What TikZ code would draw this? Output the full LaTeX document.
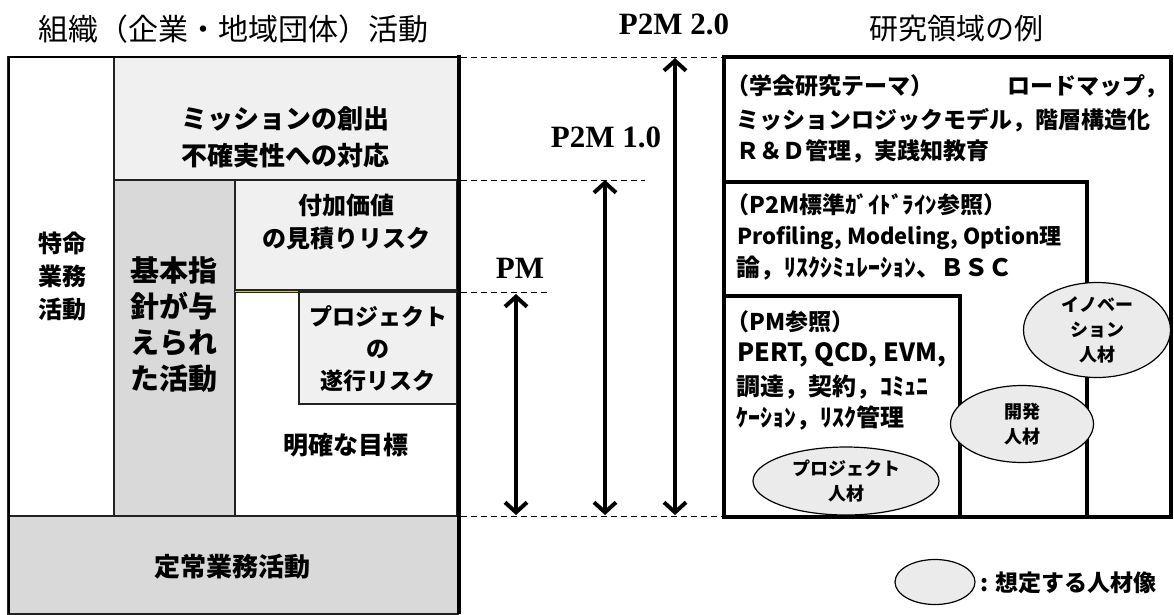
\documentclass[tikz,border=0pt]{standalone}
\usepackage{fontspec}
\newfontfamily\jp{Noto Sans CJK JP}
\newfontfamily\tms{Liberation Serif}
\usetikzlibrary{arrows.meta,shapes.geometric}
\definecolor{lightbox}{HTML}{F0F0F0}
\definecolor{darkbox}{HTML}{D9D9D9}
\definecolor{ellfill}{HTML}{EBEBEB}
\definecolor{thinline}{HTML}{222222}
\tikzset{
  cell/.style={draw=thinline,line width=1.2pt},
  thickframe/.style={draw=black,line width=3.5pt},
  guide/.style={draw=black,line width=0.9pt,dash pattern=on 6pt off 4pt},
  span/.style={line width=4pt,{Straight Barb[length=10pt,width=22pt,line width=4pt]}-{Straight Barb[length=10pt,width=22pt,line width=4pt]}},
  verlabel/.style={font=\tms\bfseries\fontsize{31}{34}\selectfont,inner sep=0pt},
  jtitle/.style={font=\jp\fontsize{29}{32}\selectfont,inner sep=0pt},
  jbold/.style={align=center,inner sep=0pt},
  jline/.style={anchor=west,inner sep=0pt,font=\jp\bfseries\fontsize{23}{28}\selectfont},
  person/.style={ellipse,draw=black,line width=1.2pt,fill=ellfill,align=center,inner sep=0pt,
    font=\jp\bfseries\fontsize{18}{25}\selectfont},
}
\begin{document}
\begin{tikzpicture}[x=1pt,y=-1pt]
\useasboundingbox (0,0) rectangle (1174,614);
\fill[white] (0,0) rectangle (1174,614);

% ---- left organisation block ----
\path[cell,fill=white] (8,57) rectangle (114,516);
\path[cell,fill=lightbox] (114,57) rectangle (458,180);
\path[cell,fill=darkbox] (114,180) rectangle (235,516);
\path[cell,fill=lightbox] (235,180) rectangle (457,290);
\path[cell,fill=white] (235,292) rectangle (457,516);
\draw[yellow!80!black,line width=0.8pt] (235,291) -- (457,291);
\path[cell,fill=lightbox] (299,292) rectangle (457,404);
\path[cell,fill=darkbox] (8,516) rectangle (458,614);
\draw[black,line width=2pt] (8,57) -- (458,57);
\draw[black,line width=2.5pt] (9,57) -- (9,614);
\draw[black,line width=4pt] (459,55) -- (459,614);

\node[jtitle,font=\jp\fontsize{30}{32}\selectfont] (ttlL) at (233,29) {組織（企業・地域団体）活動};
\node[jtitle] (ttlR) at (956,29) {研究領域の例};

\node[jbold,font=\jp\bfseries\fontsize{26}{37}\selectfont] (mission) at (285,137) {ミッションの創出\\不確実性への対応};
\node[jbold,font=\jp\bfseries\fontsize{24}{33}\selectfont] (value) at (346,222) {付加価値\\の見積りリスク};
\node[jbold,font=\jp\bfseries\fontsize{24}{33}\selectfont] (special) at (62,276) {特命\\業務\\活動};
\node[jbold,font=\jp\bfseries\fontsize{29}{36}\selectfont] (basic) at (174,325) {基本指\\針が与\\えられ\\た活動};
\node[jbold,font=\jp\bfseries\fontsize{23}{32}\selectfont] (projrisk) at (378,349) {プロジェクト\\の\\遂行リスク};
\node[jbold,font=\jp\bfseries\fontsize{25}{30}\selectfont] (goal) at (346,445) {明確な目標};
\node[jbold,font=\jp\bfseries\fontsize{26}{30}\selectfont] (routine) at (232,567) {定常業務活動};

% ---- guide lines and spans ----
\coordinate (g1a) at (461,57);  \coordinate (g1b) at (724,57);
\coordinate (g2a) at (461,180); \coordinate (g2b) at (645,180);
\coordinate (g3a) at (461,292); \coordinate (g3b) at (551,292);
\coordinate (g4a) at (461,516); \coordinate (g4b) at (724,516);
\draw[guide] (g1a) -- (g1b);
\draw[guide] (g2a) -- (g2b);
\draw[guide] (g3a) -- (g3b);
\draw[guide] (g4a) -- (g4b);

\coordinate (pmT) at (516,294);  \coordinate (pmB) at (516,515);
\coordinate (p1T) at (605,180);  \coordinate (p1B) at (605,515);
\coordinate (p2T) at (675,58);   \coordinate (p2B) at (675,515);
\draw[span] (pmT) -- (pmB);
\draw[span] (p1T) -- (p1B);
\draw[span] (p2T) -- (p2B);

\node[verlabel] (lpm) at (520,268) {PM};
\node[verlabel] (lp1) at (606,137) {P2M 1.0};
\node[verlabel] (lp2) at (674,24) {P2M 2.0};

% ---- right research block ----
\path[thickframe] (724,57) rectangle (1171,517);
\path[thickframe] (724,182) rectangle (1087,517);
\path[thickframe] (724,296) rectangle (960,517);

\node[jline] (t1) at (726,86) {（学会研究テーマ）\hspace{74pt}ロードマップ，};
\node[jline] (t2) at (736,120) {ミッションロジックモデル，階層構造化};
\node[jline] (t3) at (736,151) {Ｒ＆Ｄ管理，実践知教育};

\node[jline] (g1) at (726,205) {（P2M標準ｶﾞｲﾄﾞﾗｲﾝ参照）};
\node[jline,font=\jp\bfseries\fontsize{22}{28}\selectfont] (g2) at (737,238) {Profiling, Modeling, Option理};
\node[jline,font=\jp\bfseries\fontsize{24}{28}\selectfont] (g3) at (736,268) {論，ﾘｽｸｼﾐｭﾚｰｼｮﾝ、ＢＳＣ};

\node[jline] (r1) at (726,322) {（PM参照）};
\node[jline,font=\jp\bfseries\fontsize{25}{28}\selectfont] (r2) at (737,355) {PERT, QCD, EVM,};
\node[jline,font=\jp\bfseries\fontsize{24}{28}\selectfont] (r3) at (736,387) {調達，契約，ｺﾐｭﾆ};
\node[jline,font=\jp\bfseries\fontsize{24}{28}\selectfont] (r4) at (736,418) {ｹｰｼｮﾝ，ﾘｽｸ管理};

\node[person,minimum width=147pt,minimum height=95pt] (innov) at (1097,330) {イノベー\\ション\\人材};
\node[person,minimum width=143pt,minimum height=77pt] (dev) at (1022,424) {開発\\人材};
\node[person,minimum width=186pt,minimum height=68pt] (projp) at (846,481) {プロジェクト\\人材};

\node[person,minimum width=80pt,minimum height=45pt] (legend) at (935,582) {};
\node[anchor=west,inner sep=0pt,font=\jp\bfseries\fontsize{23}{28}\selectfont] (legtext) at (980,583) {: 想定する人材像};
\end{tikzpicture}
\end{document}
